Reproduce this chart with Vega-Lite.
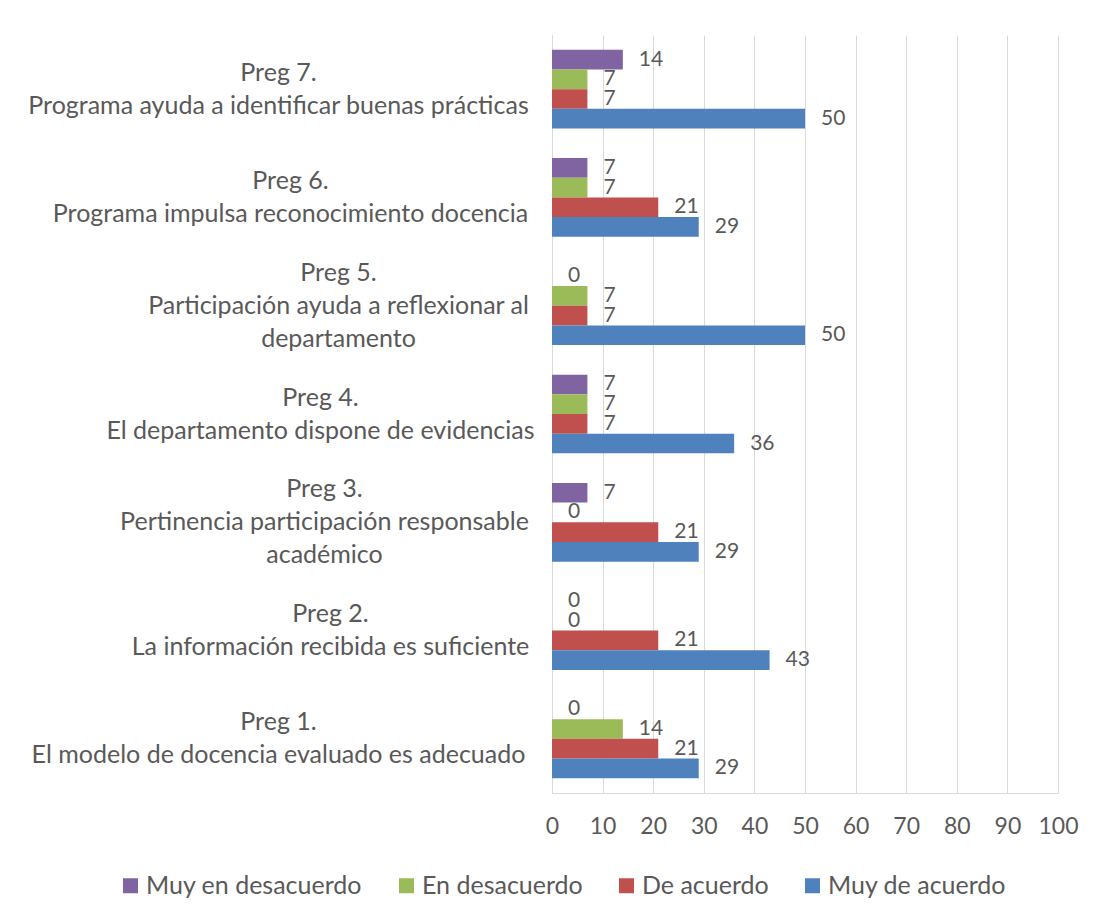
{
  "$schema": "https://vega.github.io/schema/vega-lite/v6.json",
  "width": 506,
  "height": 758,
  "autosize": "none",
  "padding": {"left": 552, "top": 35, "right": 41, "bottom": 126},
  "background": "white",
  "config": {"view": {"stroke": null}, "font": "Lato"},
  "data": {
    "values": [
      {"q": "Preg 7.|Programa ayuda a identificar buenas prácticas", "s": "Muy en desacuerdo", "v": 14},
      {"q": "Preg 7.|Programa ayuda a identificar buenas prácticas", "s": "En desacuerdo", "v": 7},
      {"q": "Preg 7.|Programa ayuda a identificar buenas prácticas", "s": "De acuerdo", "v": 7},
      {"q": "Preg 7.|Programa ayuda a identificar buenas prácticas", "s": "Muy de acuerdo", "v": 50},
      {"q": "Preg 6.|Programa impulsa reconocimiento docencia", "s": "Muy en desacuerdo", "v": 7},
      {"q": "Preg 6.|Programa impulsa reconocimiento docencia", "s": "En desacuerdo", "v": 7},
      {"q": "Preg 6.|Programa impulsa reconocimiento docencia", "s": "De acuerdo", "v": 21},
      {"q": "Preg 6.|Programa impulsa reconocimiento docencia", "s": "Muy de acuerdo", "v": 29},
      {"q": "Preg 5.|Participación ayuda a reflexionar al|departamento", "s": "Muy en desacuerdo", "v": 0},
      {"q": "Preg 5.|Participación ayuda a reflexionar al|departamento", "s": "En desacuerdo", "v": 7},
      {"q": "Preg 5.|Participación ayuda a reflexionar al|departamento", "s": "De acuerdo", "v": 7},
      {"q": "Preg 5.|Participación ayuda a reflexionar al|departamento", "s": "Muy de acuerdo", "v": 50},
      {"q": "Preg 4.|El departamento dispone de evidencias", "s": "Muy en desacuerdo", "v": 7},
      {"q": "Preg 4.|El departamento dispone de evidencias", "s": "En desacuerdo", "v": 7},
      {"q": "Preg 4.|El departamento dispone de evidencias", "s": "De acuerdo", "v": 7},
      {"q": "Preg 4.|El departamento dispone de evidencias", "s": "Muy de acuerdo", "v": 36},
      {"q": "Preg 3.|Pertinencia participación responsable|académico", "s": "Muy en desacuerdo", "v": 7},
      {"q": "Preg 3.|Pertinencia participación responsable|académico", "s": "En desacuerdo", "v": 0},
      {"q": "Preg 3.|Pertinencia participación responsable|académico", "s": "De acuerdo", "v": 21},
      {"q": "Preg 3.|Pertinencia participación responsable|académico", "s": "Muy de acuerdo", "v": 29},
      {"q": "Preg 2.|La información recibida es suficiente", "s": "Muy en desacuerdo", "v": 0},
      {"q": "Preg 2.|La información recibida es suficiente", "s": "En desacuerdo", "v": 0},
      {"q": "Preg 2.|La información recibida es suficiente", "s": "De acuerdo", "v": 21},
      {"q": "Preg 2.|La información recibida es suficiente", "s": "Muy de acuerdo", "v": 43},
      {"q": "Preg 1.|El modelo de docencia evaluado es adecuado", "s": "Muy en desacuerdo", "v": 0},
      {"q": "Preg 1.|El modelo de docencia evaluado es adecuado", "s": "En desacuerdo", "v": 14},
      {"q": "Preg 1.|El modelo de docencia evaluado es adecuado", "s": "De acuerdo", "v": 21},
      {"q": "Preg 1.|El modelo de docencia evaluado es adecuado", "s": "Muy de acuerdo", "v": 29}
    ]
  },
  "encoding": {
    "y": {
      "field": "q",
      "type": "nominal",
      "scale": {
        "domain": [
          "Preg 7.|Programa ayuda a identificar buenas prácticas",
          "Preg 6.|Programa impulsa reconocimiento docencia",
          "Preg 5.|Participación ayuda a reflexionar al|departamento",
          "Preg 4.|El departamento dispone de evidencias",
          "Preg 3.|Pertinencia participación responsable|académico",
          "Preg 2.|La información recibida es suficiente",
          "Preg 1.|El modelo de docencia evaluado es adecuado"
        ],
        "paddingInner": 0.273,
        "paddingOuter": 0.1365
      },
      "axis": {
        "title": null,
        "ticks": false,
        "tickSize": 0,
        "domain": true,
        "domainColor": "#D9D9D9",
        "domainWidth": 1,
        "labelExpr": "split(datum.label, '|')",
        "labelAlign": "center",
        "labelBaseline": "middle",
        "labelFontSize": 25,
        "labelLineHeight": 33,
        "labelColor": "#595959",
        "labelLimit": 0,
        "labelOffset": {"expr": "datum.value == 'Preg 5.|Participación ayuda a reflexionar al|departamento' || datum.value == 'Preg 3.|Pertinencia participación responsable|académico' ? -33 : -16.5"},
        "labelPadding": {"expr": "datum.value == 'Preg 6.|Programa impulsa reconocimiento docencia' ? 262 : datum.value == 'Preg 5.|Participación ayuda a reflexionar al|departamento' ? 214 : datum.value == 'Preg 4.|El departamento dispone de evidencias' ? 232 : datum.value == 'Preg 3.|Pertinencia participación responsable|académico' ? 228 : datum.value == 'Preg 2.|La información recibida es suficiente' ? 222 : 274"}
      }
    },
    "yOffset": {
      "field": "s",
      "type": "nominal",
      "scale": {
        "domain": ["Muy en desacuerdo", "En desacuerdo", "De acuerdo", "Muy de acuerdo"],
        "paddingInner": 0,
        "paddingOuter": 0
      }
    }
  },
  "layer": [
    {
      "mark": {"type": "bar"},
      "encoding": {
        "x": {
          "field": "v",
          "type": "quantitative",
          "scale": {"domain": [0, 100], "nice": false},
          "axis": {
            "title": null,
            "values": [0, 10, 20, 30, 40, 50, 60, 70, 80, 90, 100],
            "grid": true,
            "gridColor": "#D9D9D9",
            "gridWidth": 1,
            "domainColor": "#D9D9D9",
            "ticks": false,
            "tickSize": 0,
            "labelFontSize": 23,
            "labelColor": "#595959",
            "labelPadding": 22,
            "labelFlush": false
          }
        },
        "color": {
          "field": "s",
          "type": "nominal",
          "scale": {
            "domain": ["Muy en desacuerdo", "En desacuerdo", "De acuerdo", "Muy de acuerdo"],
            "range": ["#8064A2", "#9BBB59", "#C0504D", "#4F81BD"]
          },
          "legend": {
            "title": null,
            "orient": "none",
            "legendX": -434,
            "legendY": 838,
            "padding": 0,
            "direction": "horizontal",
            "symbolType": "square",
            "symbolSize": 225,
            "symbolStrokeWidth": 0,
            "symbolOpacity": 1,
            "labelFontSize": 25,
            "labelColor": "#595959",
            "labelOffset": 3,
            "columnPadding": 31,
            "labelLimit": 0
          }
        }
      }
    },
    {
      "mark": {"type": "text", "align": "left", "baseline": "middle", "dx": 16, "fontSize": 21, "color": "#595959"},
      "encoding": {
        "x": {"field": "v", "type": "quantitative"},
        "text": {"field": "v", "type": "quantitative"}
      }
    }
  ]
}
